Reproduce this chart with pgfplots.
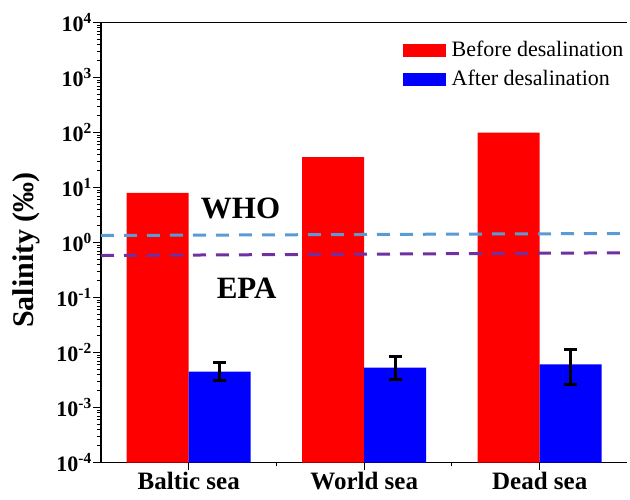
\documentclass[border=0pt]{standalone}
\usepackage{fontspec}
\setmainfont{Liberation Serif}
\usepackage{pgfplots}
\pgfplotsset{compat=1.18}
\definecolor{whoblue}{RGB}{91,155,213}
\definecolor{epapurple}{RGB}{112,48,160}
\begin{document}
\begin{tikzpicture}
\begin{axis}[
  scale only axis,
  width=526.5pt, height=440pt,
  xmin=-0.5, xmax=2.5,
  ymode=log, ymin=1e-4, ymax=1e4,
  log origin=infty,
  ybar=0pt, bar width=62pt,
  axis x line*=box, axis y line*=left,
  axis line style={line width=1.2pt, -},
  xtick={0,1,2},
  xticklabels={Baltic sea, World sea, Dead sea},
  minor xtick={0.5,1.5},
  xtick pos=bottom, ytick pos=left,
  ytick={1e-4,1e-3,1e-2,1e-1,1,10,100,1000,10000},
  yticklabels={10\textsuperscript{-4},10\textsuperscript{-3},10\textsuperscript{-2},10\textsuperscript{-1},10\textsuperscript{0},10\textsuperscript{1},10\textsuperscript{2},10\textsuperscript{3},10\textsuperscript{4}},
  minor ytick={2e-4,3e-4,4e-4,5e-4,6e-4,7e-4,8e-4,9e-4,
               2e-3,3e-3,4e-3,5e-3,6e-3,7e-3,8e-3,9e-3,
               2e-2,3e-2,4e-2,5e-2,6e-2,7e-2,8e-2,9e-2,
               0.2,0.3,0.4,0.5,0.6,0.7,0.8,0.9,
               2,3,4,5,6,7,8,9,
               20,30,40,50,60,70,80,90,
               200,300,400,500,600,700,800,900,
               2000,3000,4000,5000,6000,7000,8000,9000},
  tick align=outside,
  major tick length=8pt, minor tick length=4pt,
  every tick/.style={black, line width=1pt},
  xticklabel style={font=\fontsize{25}{25}\selectfont\bfseries, inner sep=1pt},
  yticklabel style={font=\fontsize{22}{22}\selectfont\bfseries, inner sep=1pt},
  ylabel={Salinity (‰)},
  ylabel style={font=\fontsize{30}{30}\selectfont\bfseries, at={(axis description cs:-0.142,0.483)}, anchor=center},
  legend style={draw=none, fill=none, at={(axis description cs:0.567,0.964)}, anchor=north west,
    font=\fontsize{22}{22}\selectfont, row sep=9.5pt,
    nodes={inner ysep=0pt, inner xsep=3pt, text height=15.5pt, text depth=4pt}},
  legend cell align=left,
  legend image code/.code={\fill[#1] (0pt,-6.5pt) rectangle (43pt,6.5pt);},
  clip=false,
]
\addplot[fill=red, draw=none] coordinates {(0,8.0) (1,35.5) (2,100)};
\addlegendentry{\hspace{3pt}Before desalination}
\addplot[fill=blue, draw=none,
  error bars/.cd, y dir=both, y explicit,
  error bar style={line width=2.8pt, black},
  error mark options={rotate=90, black, mark size=6.5pt, line width=3pt}]
  coordinates {(0,4.5e-3) += (0,2.0e-3) -= (0,1.45e-3)
               (1,5.3e-3) += (0,3.3e-3) -= (0,2.1e-3)
               (2,6.1e-3) += (0,5.2e-3) -= (0,3.45e-3)};
\addlegendentry{\hspace{3pt}After desalination}
\addplot[sharp plot, forget plot, whoblue, line width=3pt, dash pattern=on 13pt off 10pt] coordinates {(-0.5,1.34) (2.5,1.46)};
\addplot[sharp plot, forget plot, epapurple, line width=3pt, dash pattern=on 13pt off 10pt] coordinates {(-0.5,0.58) (2.5,0.65)};
\node[font=\fontsize{31}{31}\selectfont\bfseries] at (axis cs:0.295,4.24) {WHO};
\node[font=\fontsize{31}{31}\selectfont\bfseries] at (axis cs:0.33,0.146) {EPA};
\end{axis}
\path (current axis.south west) ++(-101pt,-36.5pt) rectangle ++(630pt,499pt);
\end{tikzpicture}
\end{document}
